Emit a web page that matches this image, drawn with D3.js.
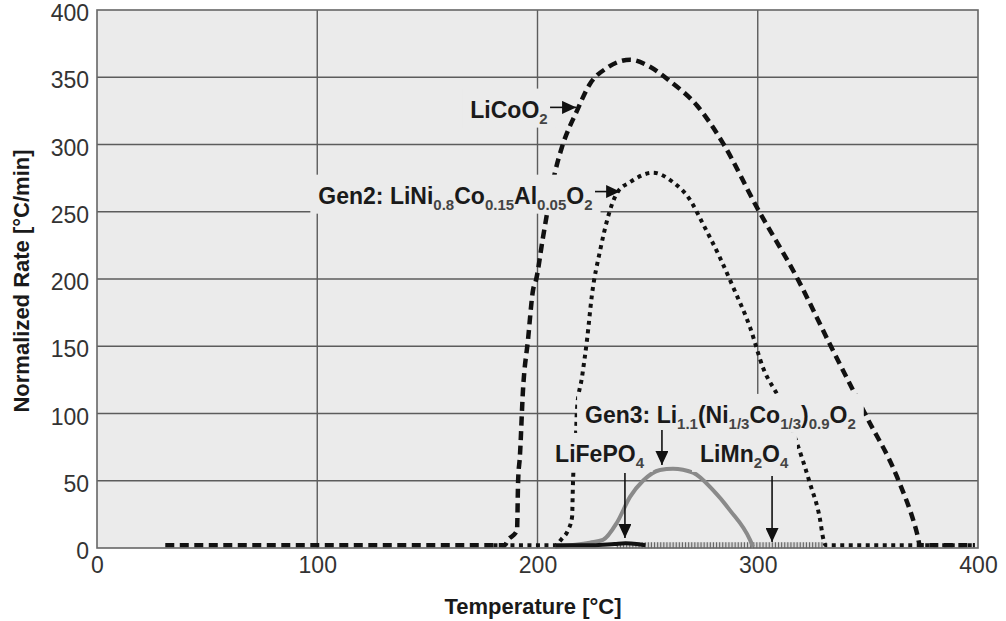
<!DOCTYPE html>
<html>
<head>
<meta charset="utf-8">
<script src="https://cdn.jsdelivr.net/npm/d3@7"></script>
<style>
  body { margin: 0; background: #fff; }
  text { font-family: "Liberation Sans", Arial, sans-serif; }
</style>
</head>
<body>
<div id="chart"></div>
<script>
// axis ticks
const xTicks = [0, 100, 200, 300, 400];
const yTicks = [0, 50, 100, 150, 200, 250, 300, 350, 400];

// LiCoO2 (dashed)
const licoo2Temp = [31, 185, 186.6, 190.7, 191.2, 192.0, 193.4, 195.7, 198.0, 199.3, 202.5, 207.9, 211.1, 217.9, 223.8, 231.6, 242.1, 249.7, 260.2, 272.4, 284.2, 299.7, 317.8, 334.1, 349.6, 363.2, 372.3, 373.7, 398.6];
const licoo2Rate = [2, 2, 6, 13, 50, 68, 117, 155, 192, 199, 231, 279, 298, 325, 345, 357, 363, 359, 347, 329, 301, 253, 201, 147, 97, 53, 11, 2, 2];

// Gen2: LiNi0.8Co0.15Al0.05O2 (dotted)
const gen2Temp = [180, 208, 211.1, 213.8, 215.7, 216.1, 217.5, 217.9, 220.2, 222.5, 224.7, 228.4, 232, 236.1, 242, 252.4, 261.5, 269.2, 275.1, 282.8, 288.8, 296.5, 302.4, 310.1, 317.8, 323.7, 328.3, 329.6, 331, 398.6];
const gen2Rate = [2, 2, 7, 13, 23, 48, 85, 103, 127, 155, 188, 221, 246, 264, 272, 279, 272, 259, 241, 216, 194, 164, 134, 110, 78, 48, 21, 8, 2, 2];

// Gen3: Li1.1(Ni1/3Co1/3)0.9O2 (grey solid)
const gen3Temp = [208, 223.8, 229.7, 236.1, 242, 247.9, 255.6, 261.5, 270.6, 279.7, 287.4, 296.5, 297.8];
const gen3Rate = [1, 4, 6, 19, 38, 50, 58, 59, 56, 43, 28, 6, 1];

// LiFePO4 (black solid)
const lifepo4Temp = [208, 225, 235, 240, 245, 249];
const lifepo4Rate = [2, 2, 3, 3.5, 3, 2];

// LiMn2O4 (hatched)
const limn2o4Temp = [236, 260, 300, 330];
const limn2o4Rate = [2, 2, 2, 2];

const width = 1006, height = 621;
const plot = {left: 97, right: 978, top: 10, bottom: 548};

const x = d3.scaleLinear().domain([0, 400]).range([plot.left, plot.right]);
const y = d3.scaleLinear().domain([0, 400]).range([plot.bottom, plot.top]);

const svg = d3.select("#chart").append("svg")
    .attr("width", width)
    .attr("height", height);

const defs = svg.append("defs");
defs.append("marker")
    .attr("id", "head")
    .attr("markerUnits", "userSpaceOnUse")
    .attr("markerWidth", 14)
    .attr("markerHeight", 13)
    .attr("refX", 14)
    .attr("refY", 6.5)
    .attr("orient", "auto")
  .append("path")
    .attr("d", "M0,0 L14,6.5 L0,13 Z")
    .attr("fill", "#111");

const bg = "#ebebeb";

// plot background
svg.append("rect")
    .attr("x", plot.left).attr("y", plot.top)
    .attr("width", plot.right - plot.left)
    .attr("height", plot.bottom - plot.top)
    .attr("fill", bg);

// gridlines
const grid = svg.append("g").attr("stroke", "#5c5c5c").attr("stroke-width", 1.4);
grid.selectAll(".hgrid")
    .data(yTicks.filter(d => d > 0 && d < 400))
    .join("line")
    .attr("x1", plot.left).attr("x2", plot.right)
    .attr("y1", d => y(d)).attr("y2", d => y(d));
const vGrid = grid.selectAll(".vgrid")
    .data(xTicks.filter(d => d > 0 && d < 400))
    .join("line")
    .attr("x1", d => x(d)).attr("x2", d => x(d))
    .attr("y1", plot.top).attr("y2", plot.bottom);

// series, drawn bottom to top
const series = [
  {t: limn2o4Temp, r: limn2o4Rate, stroke: "#d6d6d6", w: 6, dash: null},
  {t: limn2o4Temp, r: limn2o4Rate, stroke: "#666", w: 6, dash: "1.1,2"},
  {t: licoo2Temp, r: licoo2Rate, stroke: "#111", w: 4.5, dash: "9,5.5"},
  {t: gen2Temp, r: gen2Rate, stroke: "#111", w: 4, dash: "4,4.5"},
  {t: gen3Temp, r: gen3Rate, stroke: "#8a8a8a", w: 4, dash: null},
  {t: lifepo4Temp, r: lifepo4Rate, stroke: "#111", w: 4, dash: null}
];

const line = d3.line()
    .x(d => x(d[0]))
    .y(d => y(d[1]))
    .curve(d3.curveMonotoneX);

svg.append("g").selectAll("path")
    .data(series)
    .join("path")
    .attr("fill", "none")
    .attr("stroke", d => d.stroke)
    .attr("stroke-width", d => d.w)
    .attr("stroke-dasharray", d => d.dash)
    .attr("stroke-linejoin", "round")
    .attr("d", d => line(d3.zip(d.t, d.r)));

// border
svg.append("rect")
    .attr("x", plot.left).attr("y", plot.top)
    .attr("width", plot.right - plot.left)
    .attr("height", plot.bottom - plot.top)
    .attr("fill", "none")
    .attr("stroke", "#666")
    .attr("stroke-width", 1.6);

// axes
const xAxis = d3.axisBottom(x).tickValues(xTicks).tickSize(0).tickPadding(9);
const yAxis = d3.axisLeft(y).tickValues(yTicks).tickSize(0).tickPadding(8);

svg.append("g")
    .attr("transform", `translate(0,${plot.bottom})`)
    .call(xAxis)
    .call(g => g.select(".domain").remove())
    .selectAll("text")
    .attr("font-family", "Liberation Sans, Arial, sans-serif")
    .attr("font-size", 23)
    .attr("fill", "#333");

svg.append("g")
    .attr("transform", `translate(${plot.left},0)`)
    .call(yAxis)
    .call(g => g.select(".domain").remove())
    .selectAll("text")
    .attr("dy", "0.46em")
    .attr("font-family", "Liberation Sans, Arial, sans-serif")
    .attr("font-size", 23)
    .attr("fill", "#333");

svg.append("text")
    .attr("x", 533)
    .attr("y", 614)
    .attr("text-anchor", "middle")
    .attr("font-size", 22)
    .attr("font-weight", "bold")
    .attr("fill", "#1a1a1a")
    .text("Temperature [°C]");

svg.append("text")
    .attr("transform", "translate(29,281) rotate(-90)")
    .attr("text-anchor", "middle")
    .attr("font-size", 22)
    .attr("font-weight", "bold")
    .attr("fill", "#1a1a1a")
    .text("Normalized Rate [°C/min]");

// labels (boxes hide what lies beneath, as in the source chart)
const labels = [
  {parts: [["LiCoO", 0], ["2", 1]], t: 204.6, r: 320, anchor: "end"},
  {parts: [["Gen2: LiNi", 0], ["0.8", 1], ["Co", 0], ["0.15", 1], ["Al", 0], ["0.05", 1], ["O", 0], ["2", 1]], t: 100.5, r: 256, anchor: "start"},
  {parts: [["Gen3: Li", 0], ["1.1", 1], ["(Ni", 0], ["1/3", 1], ["Co", 0], ["1/3", 1], [")", 0], ["0.9", 1], ["O", 0], ["2", 1]], t: 221.6, r: 93, anchor: "start"},
  {parts: [["LiFePO", 0], ["4", 1]], t: 208, r: 64, anchor: "start"},
  {parts: [["LiMn", 0], ["2", 1], ["O", 0], ["4", 1]], t: 273.8, r: 64, anchor: "start"}
];

const labelG = svg.append("g");
const boxes = [];
labels.forEach(a => {
  const g = labelG.append("g");
  const rect = g.append("rect").attr("fill", bg);
  const txt = g.append("text")
      .attr("x", x(a.t))
      .attr("y", y(a.r))
      .attr("text-anchor", a.anchor)
      .attr("font-weight", "bold")
      .attr("fill", "#1a1a1a");
  let prev = 0;
  a.parts.forEach(([s, sub]) => {
    txt.append("tspan")
        .attr("dy", sub === prev ? 0 : (sub ? 6 : -6))
        .attr("font-size", sub ? 15 : 23)
        .attr("fill", sub ? "#444" : "#1a1a1a")
        .text(s);
    prev = sub;
  });
  const bb = txt.node().getBBox();
  const base = y(a.r);
  const box = {x: bb.x - 8, y: base - 29, w: bb.width + 16, h: 39};
  boxes.push(box);
  rect.attr("x", box.x).attr("y", box.y).attr("width", box.w).attr("height", box.h);
});

// the 300 gridline stops at the Gen3 label in the source
vGrid.filter(d => d === 300).attr("y2", boxes[2].y);

// arrows
const arrows = [
  {from: [205.7, 327.6], to: [217.5, 327.6]},
  {from: [226.1, 265], to: [237.5, 265]},
  {from: [256.5, 87.7], to: [256.5, 61.7]},
  {from: [239.7, 55.7], to: [239.7, 7.4]},
  {from: [306.5, 53.5], to: [306.5, 4.5]}
];

svg.append("g").selectAll("line")
    .data(arrows)
    .join("line")
    .attr("x1", d => x(d.from[0])).attr("y1", d => y(d.from[1]))
    .attr("x2", d => x(d.to[0])).attr("y2", d => y(d.to[1]))
    .attr("stroke", "#111")
    .attr("stroke-width", 1.6)
    .attr("marker-end", "url(#head)");
</script>
</body>
</html>
